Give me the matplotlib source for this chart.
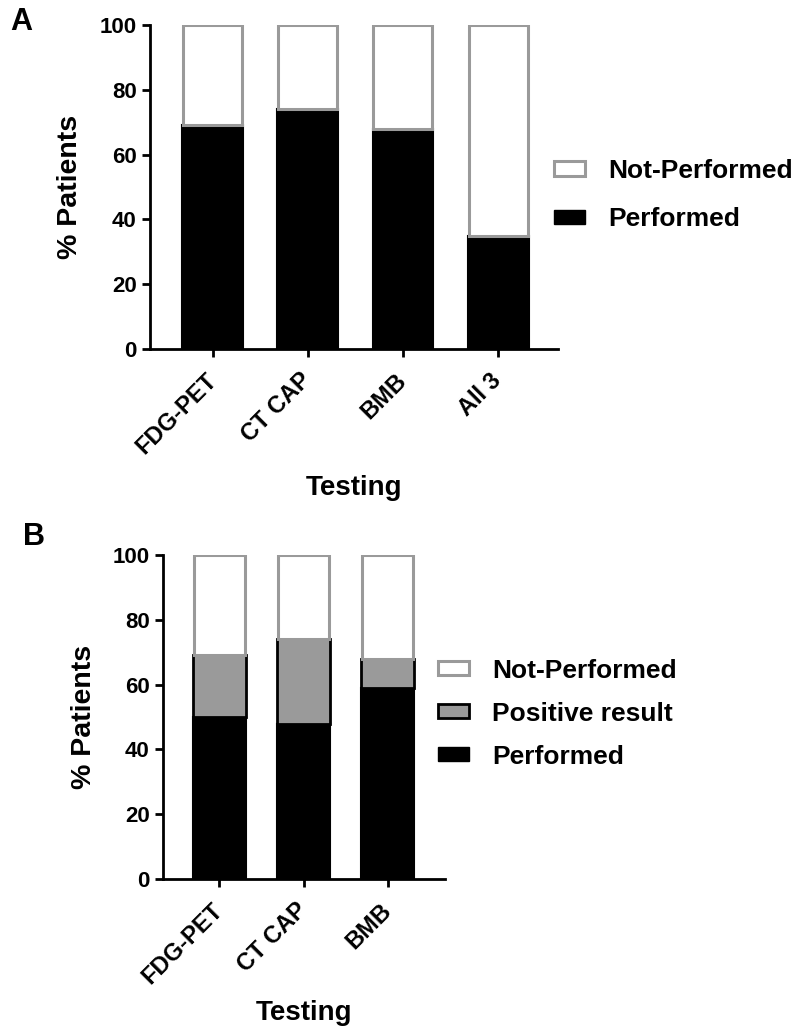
import matplotlib.pyplot as plt
from matplotlib.patches import Patch

plt.rcParams['font.family'] = ['Liberation Sans', 'DejaVu Sans']
plt.rcParams['font.weight'] = 'bold'

tests_a = ["FDG-PET", "CT CAP", "BMB", "All 3"]
performed_a = [69, 74, 68, 35]
not_performed_a = [31, 26, 32, 65]

tests_b = ["FDG-PET", "CT CAP", "BMB"]
performed_b = [50, 48, 59]
positive_b = [19, 26, 9]
not_performed_b = [31, 26, 32]

GRAY = "#9a9a9a"


def style_axes(ax, n, xmin, xmax, labels):
    for s in ["top", "right"]:
        ax.spines[s].set_visible(False)
    for s in ["left", "bottom"]:
        ax.spines[s].set_linewidth(2.0)
    ax.set_ylim(0, 100)
    ax.set_xlim(xmin, xmax)
    ax.set_yticks([0, 20, 40, 60, 80, 100])
    ax.set_xticks(range(n))
    ax.set_xticklabels(labels, rotation=45, ha="right", va="center",
                       rotation_mode="anchor", fontsize=17, fontweight="bold")
    ax.tick_params(axis="both", width=2.0, length=6)
    ax.tick_params(axis="y", labelsize=16)
    ax.tick_params(axis="x", pad=14)
    ax.set_ylabel("% Patients", fontsize=20.5, fontweight="bold")
    ax.set_xlabel("Testing", fontsize=20, fontweight="bold")


fig = plt.figure(figsize=(8, 10.35), dpi=100)

# panel A
ax1 = fig.add_axes([0.1875, 0.6628, 0.51, 0.313])
x = range(len(tests_a))
ax1.bar(x, performed_a, width=0.64, color="black", edgecolor="black", linewidth=1.5)
ax1.bar(x, not_performed_a, bottom=performed_a, width=0.62, color="white",
        edgecolor=GRAY, linewidth=2.2)
style_axes(ax1, len(tests_a), -0.66, 3.63, tests_a)
ax1.yaxis.set_label_coords(-0.164, 0.5)
ax1.xaxis.set_label_coords(0.5, -0.389)
h1 = [Patch(facecolor="white", edgecolor=GRAY, linewidth=2.2, label="Not-Performed"),
      Patch(facecolor="black", edgecolor="black", label="Performed")]
ax1.legend(handles=h1, loc="center left", bbox_to_anchor=(0.6625, 0.8115),
           bbox_transform=fig.transFigure, frameon=False,
           handlelength=1.2, handleheight=0.45, labelspacing=0.92, handletextpad=0.87,
           prop={"weight": "bold", "size": 19})

# panel B
ax2 = fig.add_axes([0.2038, 0.1507, 0.3525, 0.313])
xb = range(len(tests_b))
bottom_pos = performed_b
top_pos = [p + q for p, q in zip(performed_b, positive_b)]
ax2.bar(xb, performed_b, width=0.63, color="black", edgecolor="black", linewidth=1.5)
ax2.bar(xb, positive_b, bottom=bottom_pos, width=0.63, color=GRAY,
        edgecolor="black", linewidth=2.0)
ax2.bar(xb, not_performed_b, bottom=top_pos, width=0.61, color="white",
        edgecolor=GRAY, linewidth=2.2)
style_axes(ax2, len(tests_b), -0.67, 2.68, tests_b)
ax2.yaxis.set_label_coords(-0.234, 0.5)
ax2.xaxis.set_label_coords(0.5, -0.373)
h2 = [Patch(facecolor="white", edgecolor=GRAY, linewidth=2.2, label="Not-Performed"),
      Patch(facecolor=GRAY, edgecolor="black", linewidth=2.0, label="Positive result"),
      Patch(facecolor="black", edgecolor="black", label="Performed")]
ax2.legend(handles=h2, loc="center left", bbox_to_anchor=(0.5175, 0.3104),
           bbox_transform=fig.transFigure, frameon=False,
           handlelength=1.2, handleheight=0.45, labelspacing=0.72, handletextpad=0.87,
           prop={"weight": "bold", "size": 19})

fig.text(0.0125, 0.979, "A", fontsize=22, fontweight="bold", va="center")
fig.text(0.029, 0.481, "B", fontsize=22, fontweight="bold", va="center")

fig.savefig("out.png", dpi=100)
